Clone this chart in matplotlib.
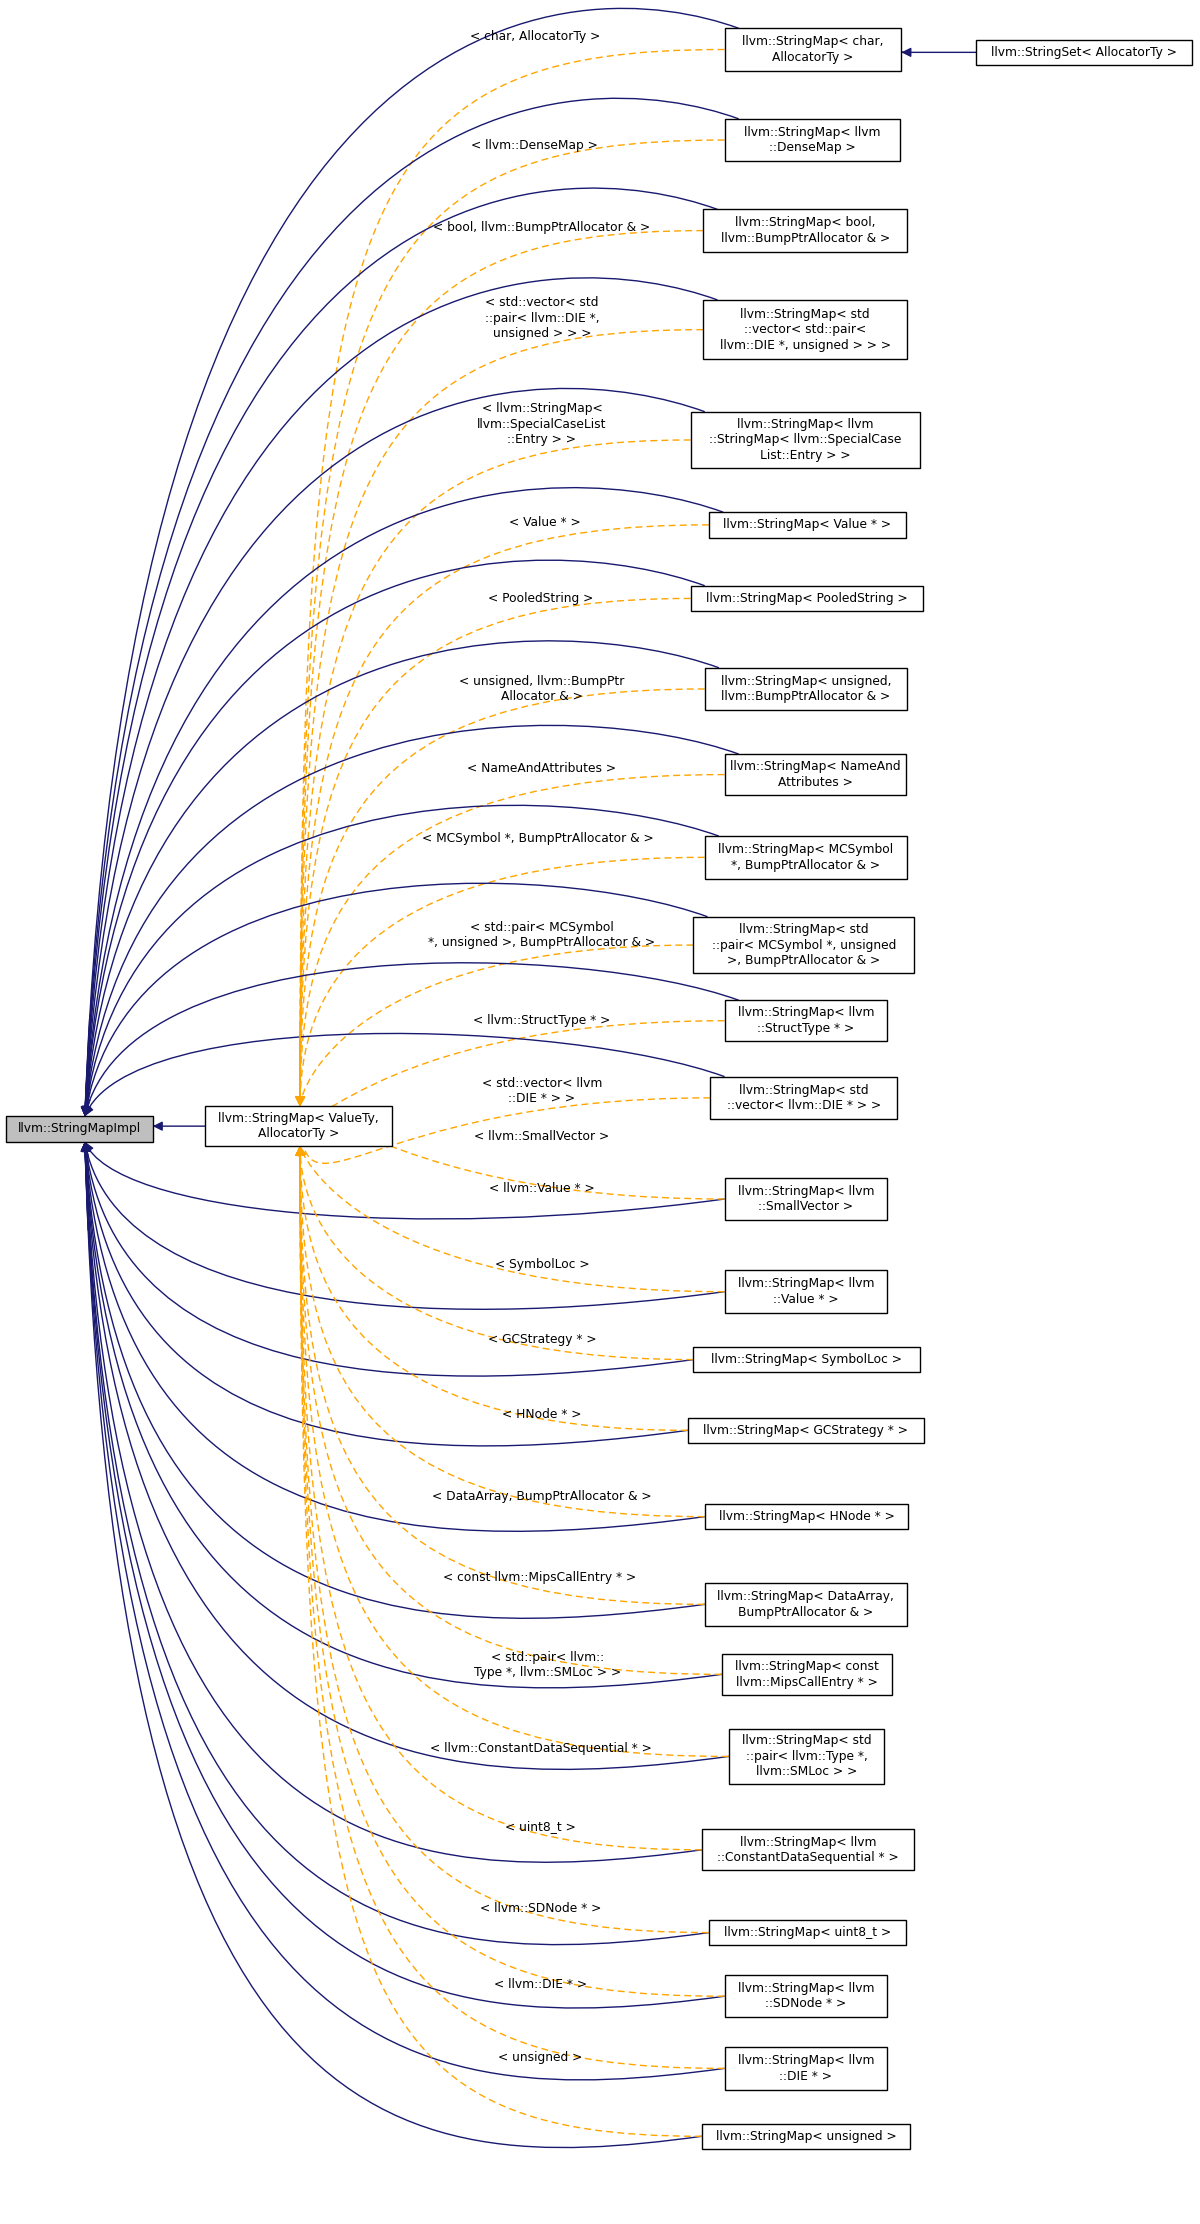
import numpy as np
import matplotlib
matplotlib.use("Agg")
import matplotlib.pyplot as plt
from matplotlib.path import Path
from matplotlib.patches import PathPatch, FancyArrowPatch, Rectangle

# class names of derived template instances
children = [
    "llvm::StringMap< char,\nAllocatorTy >",
    "llvm::StringMap< llvm\n::DenseMap >",
    "llvm::StringMap< bool,\nllvm::BumpPtrAllocator & >",
    "llvm::StringMap< std\n::vector< std::pair<\nllvm::DIE *, unsigned > > >",
    "llvm::StringMap< llvm\n::StringMap< llvm::SpecialCase\nList::Entry > >",
    "llvm::StringMap< Value * >",
    "llvm::StringMap< PooledString >",
    "llvm::StringMap< unsigned,\nllvm::BumpPtrAllocator & >",
    "llvm::StringMap< NameAnd\nAttributes >",
    "llvm::StringMap< MCSymbol\n*, BumpPtrAllocator & >",
    "llvm::StringMap< std\n::pair< MCSymbol *, unsigned\n>, BumpPtrAllocator & >",
    "llvm::StringMap< llvm\n::StructType * >",
    "llvm::StringMap< std\n::vector< llvm::DIE * > >",
    "llvm::StringMap< llvm\n::SmallVector >",
    "llvm::StringMap< llvm\n::Value * >",
    "llvm::StringMap< SymbolLoc >",
    "llvm::StringMap< GCStrategy * >",
    "llvm::StringMap< HNode * >",
    "llvm::StringMap< DataArray,\nBumpPtrAllocator & >",
    "llvm::StringMap< const\nllvm::MipsCallEntry * >",
    "llvm::StringMap< std\n::pair< llvm::Type *,\nllvm::SMLoc > >",
    "llvm::StringMap< llvm\n::ConstantDataSequential * >",
    "llvm::StringMap< uint8_t >",
    "llvm::StringMap< llvm\n::SDNode * >",
    "llvm::StringMap< llvm\n::DIE * >",
    "llvm::StringMap< unsigned >",
]
# template argument labels on the dashed edges
edge_labels = [
    "< char, AllocatorTy >", "< llvm::DenseMap >", "< bool, llvm::BumpPtrAllocator & >",
    "< std::vector< std\n::pair< llvm::DIE *,\nunsigned > > >",
    "< llvm::StringMap<\nllvm::SpecialCaseList\n::Entry > >",
    "< Value * >", "< PooledString >", "< unsigned, llvm::BumpPtr\nAllocator & >",
    "< NameAndAttributes >", "< MCSymbol *, BumpPtrAllocator & >",
    "< std::pair< MCSymbol\n*, unsigned >, BumpPtrAllocator & >",
    "< llvm::StructType * >", "< std::vector< llvm\n::DIE * > >", "< llvm::SmallVector >",
    "< llvm::Value * >", "< SymbolLoc >", "< GCStrategy * >", "< HNode * >",
    "< DataArray, BumpPtrAllocator & >", "< const llvm::MipsCallEntry * >",
    "< std::pair< llvm::\nType *, llvm::SMLoc > >", "< llvm::ConstantDataSequential * >",
    "< uint8_t >", "< llvm::SDNode * >", "< llvm::DIE * >", "< unsigned >",
]

# layout (image pixel units at 848 wide): box left, right, top, bottom; label x, y
boxes = [
    (512, 637, 20, 50), (512, 636, 84, 114), (497, 641, 148, 178), (497, 641, 212, 254),
    (488, 650, 291, 331), (501, 640, 362, 380), (488, 652, 414, 432), (498, 641, 472, 502),
    (512, 640, 533, 562), (498, 641, 591, 621), (490, 646, 648, 688), (512, 627, 707, 736),
    (502, 634, 761, 791), (512, 627, 833, 862), (512, 627, 898, 928), (490, 650, 952, 970),
    (486, 653, 1002, 1020), (498, 642, 1063, 1081), (498, 641, 1119, 1149), (510, 630, 1169, 1198),
    (515, 625, 1222, 1261), (496, 646, 1293, 1322), (501, 640, 1357, 1375), (512, 627, 1396, 1426),
    (512, 627, 1447, 1477), (496, 643, 1501, 1519),
]
label_pos = [
    (378, 26), (378, 103), (383, 161), (383, 225), (383, 300), (385, 369), (382, 423),
    (383, 487), (383, 543), (380, 593), (383, 661), (383, 721), (383, 771), (383, 803),
    (383, 840), (383, 894), (383, 947), (383, 1000), (383, 1058), (381, 1115), (387, 1177),
    (382, 1236), (382, 1291), (382, 1349), (382, 1403), (382, 1454),
]

NAVY = "#191970"
ORANGE = "#ffa500"
FS = 8.8

fig = plt.figure(figsize=(12, 22.24), dpi=100)
ax = fig.add_axes([0, 0, 1, 1])
ax.set_xlim(0, 848)
ax.set_ylim(1572, 0)
ax.axis("off")


def bez(p0, p1, p2, p3, t):
    p0, p1, p2, p3 = map(np.array, (p0, p1, p2, p3))
    return (1 - t) ** 3 * p0 + 3 * (1 - t) ** 2 * t * p1 + 3 * (1 - t) * t ** 2 * p2 + t ** 3 * p3


def edge(p0, p1, p2, p3, color, ls):
    path = Path([p0, p1, p2, p3], [Path.MOVETO, Path.CURVE4, Path.CURVE4, Path.CURVE4])
    ax.add_patch(PathPatch(path, fc="none", ec=color, lw=1.0, ls=ls, zorder=1))
    tail = bez(p0, p1, p2, p3, 0.97)
    ax.add_patch(FancyArrowPatch(tail, p3, arrowstyle="-|>", mutation_scale=14,
                                 color=color, lw=1.0, zorder=2, shrinkA=0, shrinkB=0))


def box(x0, x1, y0, y1, text, fc="white"):
    ax.add_patch(Rectangle((x0, y0), x1 - x0, y1 - y0, fc=fc, ec="black", lw=1.0, zorder=3))
    ax.text((x0 + x1) / 2, (y0 + y1) / 2, text, ha="center", va="center",
            fontsize=FS, linespacing=1.25, zorder=4)


root = (4, 108, 789, 807)
tmpl = (145, 277, 782, 810)

for (x0, x1, y0, y1), name, lab, (lx, ly) in zip(boxes, children, edge_labels, label_pos):
    yc = (y0 + y1) / 2
    # solid: direct inheritance from StringMapImpl
    if yc < 798:
        start = (x0 + 10, y0)
        end = (60, 789)
        apex = y0 - 40
        edge(start, (x0 - 100, apex), (90, apex - 10), end, NAVY, "-")
    else:
        start = (x0, yc)
        end = (60, 807)
        edge(start, (x0 - 220, yc + 30), (80, yc + 10), end, NAVY, "-")
    # dashed: template instantiation
    if yc < 796:
        end = (212, 782)
        edge((x0, yc), (250, yc), (212, yc + 100), end, ORANGE, (0, (5, 3)))
    else:
        end = (212, 810)
        edge((x0, yc), (250, yc), (212, yc - 100), end, ORANGE, (0, (5, 3)))
    ax.text(lx, ly, lab, ha="center", va="center", fontsize=FS, linespacing=1.25, zorder=4)
    box(x0, x1, y0, y1, name)

edge((145, 796), (130, 796), (120, 796), (108, 796), NAVY, "-")
edge((690, 37), (670, 37), (655, 37), (637, 37), NAVY, "-")
box(*root, "llvm::StringMapImpl", fc="#bfbfbf")
box(*tmpl, "llvm::StringMap< ValueTy,\nAllocatorTy >")
box(690, 842, 28, 46, "llvm::StringSet< AllocatorTy >")

fig.savefig("out.png", dpi=100)
